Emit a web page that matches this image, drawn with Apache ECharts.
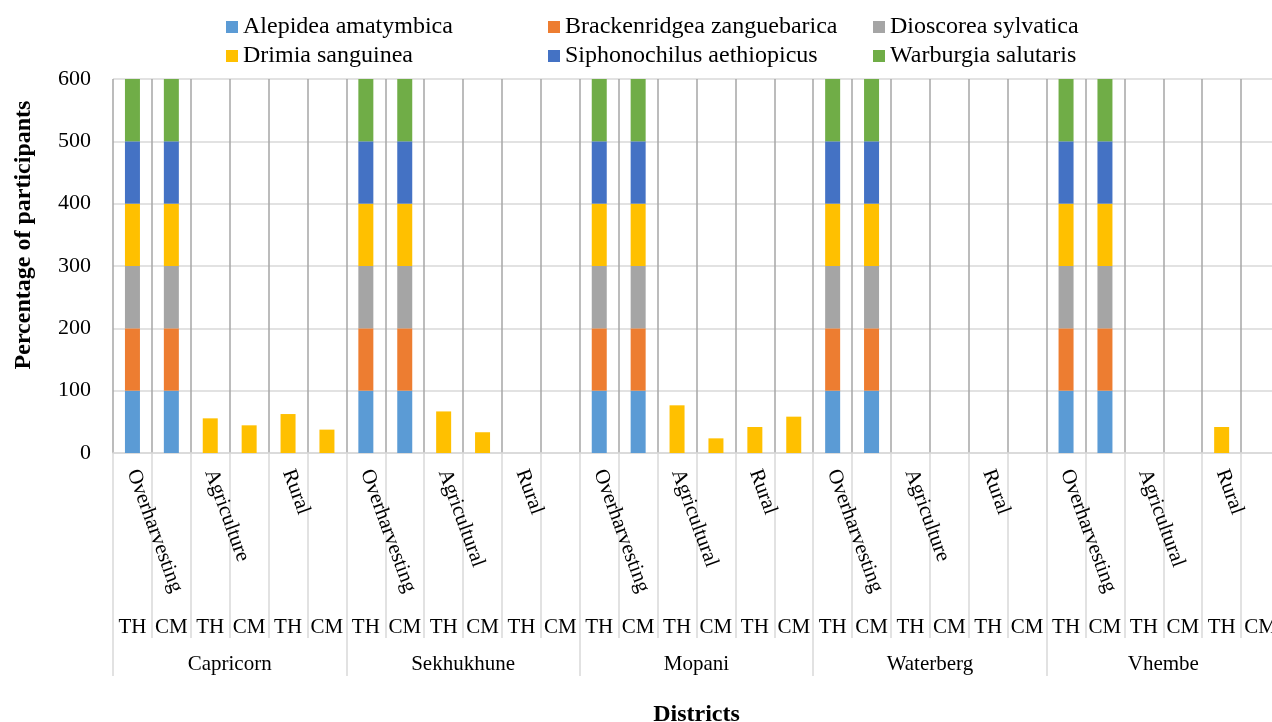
<!DOCTYPE html>
<html>
<head>
<meta charset="utf-8">
<script src="https://cdn.jsdelivr.net/npm/echarts@6/dist/echarts.min.js"></script>
<style>html,body{margin:0;padding:0;background:#fff;overflow:hidden}#c{width:1280px;height:722px}</style>
</head>
<body>
<div id="c"></div>
<script>
// ---- data ----
const districts = ['Capricorn', 'Sekhukhune', 'Mopani', 'Waterberg', 'Vhembe'];
const threatsByDistrict = [
  ['Overharvesting', 'Agriculture', 'Rural'],
  ['Overharvesting', 'Agricultural', 'Rural'],
  ['Overharvesting', 'Agricultural', 'Rural'],
  ['Overharvesting', 'Agriculture', 'Rural'],
  ['Overharvesting', 'Agricultural', 'Rural']
];
const codes = ['TH', 'CM'];
const yTicks = [0, 100, 200, 300, 400, 500, 600];

const speciesNames = ['Alepidea amatymbica', 'Brackenridgea zanguebarica', 'Dioscorea sylvatica',
  'Drimia sanguinea', 'Siphonochilus aethiopicus', 'Warburgia salutaris'];
const speciesColors = ['#5B9BD5', '#ED7D31', '#A5A5A5', '#FFC000', '#4472C4', '#70AD47'];

//               Capricorn                      Sekhukhune                     Mopani                         Waterberg                      Vhembe
const alepidea =      [100,100,null,null,null,null,  100,100,null,null,null,null,  100,100,null,null,null,null,  100,100,null,null,null,null,  100,100,null,null,null,null];
const brackenridgea = [100,100,null,null,null,null,  100,100,null,null,null,null,  100,100,null,null,null,null,  100,100,null,null,null,null,  100,100,null,null,null,null];
const dioscorea =     [100,100,null,null,null,null,  100,100,null,null,null,null,  100,100,null,null,null,null,  100,100,null,null,null,null,  100,100,null,null,null,null];
const drimia =        [100,100,55.6,44.4,62.5,37.5,  100,100,66.7,33.3,null,null,  100,100,76.5,23.5,41.7,58.3,  100,100,null,null,null,null,  100,100,null,null,41.7,null];
const siphonochilus = [100,100,null,null,null,null,  100,100,null,null,null,null,  100,100,null,null,null,null,  100,100,null,null,null,null,  100,100,null,null,null,null];
const warburgia =     [100,100,null,null,null,null,  100,100,null,null,null,null,  100,100,null,null,null,null,  100,100,null,null,null,null,  100,100,null,null,null,null];
const seriesValues = [alepidea, brackenridgea, dioscorea, drimia, siphonochilus, warburgia];

// ---- build category levels ----
const codes30 = [], threats30 = [];
districts.forEach((d, i) => {
  threatsByDistrict[i].forEach(t => {
    codes.forEach((c, k) => { codes30.push(c); threats30.push(k === 0 ? t : ''); });
  });
});

const FONT = "'Liberation Serif', 'Times New Roman', serif";
const chart = echarts.init(document.getElementById('c'), null, {renderer: 'canvas'});

function legendCol(left, names) {
  return {
    orient: 'vertical', left: left, top: 15, padding: 0, itemWidth: 12, itemHeight: 12, itemGap: 5,
    icon: 'rect', data: names,
    textStyle: {fontFamily: FONT, fontSize: 24, color: '#000'}
  };
}

chart.setOption({
  animation: false,
  legend: [
    legendCol(226, [speciesNames[0], speciesNames[3]]),
    legendCol(548, [speciesNames[1], speciesNames[4]]),
    legendCol(873, [speciesNames[2], speciesNames[5]])
  ],
  grid: {left: 113, top: 79, width: 1167, height: 374, containLabel: false, outerBoundsMode: 'none'},
  xAxis: [
    {
      type: 'category', data: codes30, position: 'bottom',
      axisLine: {show: true, lineStyle: {color: '#d9d9d9', width: 1.5}},
      axisTick: {show: true, interval: 0, length: 185, lineStyle: {color: '#d9d9d9', width: 1.5}},
      axisLabel: {interval: 0, margin: 164, fontFamily: FONT, fontSize: 21, color: '#000'},
      splitLine: {show: true, interval: 0, lineStyle: {color: '#a6a6a6', width: 1.5}}
    },
    {
      type: 'category', data: threats30, position: 'bottom',
      axisLine: {show: false}, axisTick: {show: false},
      axisLabel: {interval: 0, rotate: -70, margin: 17, fontFamily: FONT, fontSize: 21, color: '#000'},
      splitLine: {show: false}
    },
    {
      type: 'category', data: districts, position: 'bottom',
      axisLine: {show: false},
      axisTick: {show: true, interval: 0, length: 223, lineStyle: {color: '#d9d9d9', width: 1.5}},
      axisLabel: {interval: 0, margin: 201, fontFamily: FONT, fontSize: 21, color: '#000'},
      splitLine: {show: false},
      name: 'Districts', nameLocation: 'middle', nameGap: 250,
      nameTextStyle: {fontFamily: FONT, fontSize: 24, fontWeight: 'bold', color: '#000'}
    }
  ],
  yAxis: {
    type: 'value', min: yTicks[0], max: yTicks[yTicks.length - 1], interval: 100,
    axisLine: {show: false}, axisTick: {show: false},
    axisLabel: {margin: 22, fontFamily: FONT, fontSize: 22, color: '#000'},
    splitLine: {show: true, lineStyle: {color: '#d9d9d9', width: 1.5}},
    name: 'Percentage of participants', nameLocation: 'middle', nameGap: 77,
    nameTextStyle: {fontFamily: FONT, fontSize: 24, fontWeight: 'bold', color: '#000', padding: [0, 0, 0, 62]}
  },
  series: speciesNames.map((n, i) => ({
    name: n, type: 'bar', stack: 'total', xAxisIndex: 0, barWidth: 15,
    itemStyle: {color: speciesColors[i]},
    data: seriesValues[i]
  }))
});
</script>
</body>
</html>
